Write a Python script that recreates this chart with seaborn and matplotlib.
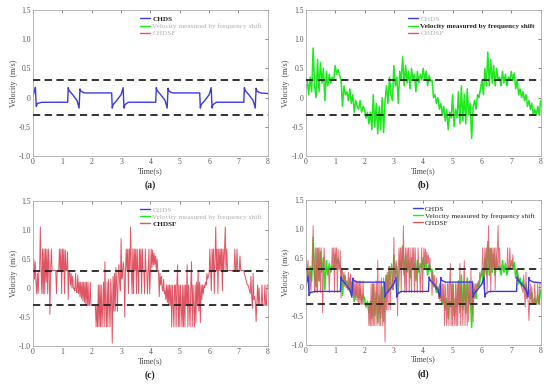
import matplotlib
matplotlib.use("Agg")
import matplotlib.pyplot as plt
from matplotlib.lines import Line2D
import numpy as np
import seaborn as sns

# CHDS: key points of the switching curve
chds_t = [0.0, 0.08, 0.11, 0.15, 0.3, 1.18, 1.2, 1.23, 1.35, 1.5, 1.57, 1.6, 1.63, 1.75,
          2.68, 2.7, 2.73, 2.85, 3.0, 3.07, 3.1, 3.13, 3.25,
          4.18, 4.2, 4.23, 4.35, 4.5, 4.57, 4.6, 4.63, 4.75,
          5.68, 5.7, 5.73, 5.85, 6.0, 6.07, 6.1, 6.13, 6.25,
          7.18, 7.2, 7.23, 7.35, 7.5, 7.57, 7.6, 7.63, 7.75, 8.0]
chds_v = [0.02, 0.18, -0.15, -0.1, -0.08, -0.08, 0.17, 0.12, 0.05, -0.05, -0.18, 0.15, 0.11, 0.08,
          0.08, -0.18, -0.12, -0.05, 0.05, 0.17, -0.18, -0.12, -0.08,
          -0.08, 0.17, 0.12, 0.05, -0.05, -0.18, 0.16, 0.11, 0.08,
          0.08, -0.18, -0.12, -0.05, 0.05, 0.17, -0.18, -0.12, -0.08,
          -0.08, 0.17, 0.12, 0.05, -0.05, -0.18, 0.16, 0.11, 0.08, 0.07]

# velocity measured by frequency shift, sampled every 0.05 s
shift_t = np.linspace(0, 8, 161)
shift_v = [
    0.15, 0.30, 0.05, 0.35, 0.10, 0.85, 0.20, 0.00, 0.65, 0.10,
    0.60, 0.25, 0.50, -0.05, 0.45, 0.20, 0.40, 0.25, 0.35, 0.30,
    0.55, 0.40, 0.48, 0.38, 0.30, -0.15, 0.20, 0.05, 0.10, -0.05,
    0.15, -0.10, 0.05, -0.25, -0.05, -0.15, -0.20, -0.05, -0.25, -0.15,
    -0.20, -0.35, -0.25, -0.45, -0.25, -0.55, 0.05, -0.50, -0.10, -0.62,
    -0.15, -0.55, 0.00, -0.60, -0.05, 0.20, -0.10, 0.35, 0.05, -0.05,
    0.55, 0.20, 0.35, -0.10, 0.45, 0.30, 0.70, 0.20, 0.55, 0.25,
    0.45, 0.15, 0.50, 0.30, 0.40, 0.10, 0.45, 0.25, 0.40, 0.30,
    0.50, 0.30, 0.45, 0.20, 0.38, 0.28, 0.30, 0.00, 0.05, -0.10,
    0.00, -0.20, -0.10, -0.30, -0.15, -0.40, -0.20, -0.55, -0.25, -0.35,
    0.05, -0.50, -0.20, -0.35, 0.10, -0.45, 0.20, -0.40, 0.05, -0.45,
    0.15, -0.30, -0.10, -0.70, -0.15, -0.05, -0.20, 0.05, 0.00, 0.15,
    0.30, 0.05, 0.50, 0.20, 0.78, 0.20, 0.65, 0.25, 0.55, 0.20,
    0.50, 0.30, 0.35, 0.20, 0.45, 0.25, 0.40, 0.20, 0.35, 0.30,
    0.45, 0.30, 0.42, 0.15, 0.30, 0.05, 0.15, 0.00, 0.10, -0.05,
    0.05, -0.15, -0.05, -0.20, -0.10, -0.30, -0.20, -0.30, -0.15, -0.30,
    -0.05,
]

# CHDSF, sampled every 0.025 s
chdsf_t = np.linspace(0, 8, 321)
chdsf_v = [
    0.05, 0.50, 0.15, 0.45, 0.10, -0.10, 0.25, -0.10, 0.28, 0.30,
    1.05, 0.30, -0.10, 0.67, -0.10, 0.67, -0.10, 0.67, 0.10, 0.67,
    -0.10, 0.67, 0.30, -0.45, 0.30, 0.67, 0.30, 0.30, 0.30, 0.30,
    0.30, 0.30, -0.10, 0.30, 0.30, 0.30, 0.67, 0.30, 0.67, -0.10,
    0.67, 0.30, 0.67, -0.10, 0.65, 0.30, 0.30, 0.62, -0.20, 0.30,
    0.28, 0.05, 0.25, 0.00, 0.20, -0.02, 0.00, -0.05, 0.25, -0.05,
    -0.08, 0.22, -0.10, 0.10, -0.15, 0.10, -0.18, 0.10, -0.22, 0.10,
    -0.25, 0.10, -0.28, 0.10, -0.30, 0.10, -0.30, -0.30, 0.10, -0.30,
    -0.30, -0.30, -0.30, -0.30, -0.30, -0.30, -0.67, -0.30, -0.67, 0.05,
    -0.67, 0.05, -0.67, 0.05, -0.67, -0.30, 0.10, -0.67, 0.45, -0.30,
    -0.67, 0.10, -0.67, 0.15, -0.30, -0.67, 0.15, -0.20, -0.95, 0.20,
    -0.40, 0.25, -0.40, 0.35, 0.05, -0.40, 0.20, 0.40, 0.10, -0.05,
    0.85, 0.15, 0.25, 0.45, 0.30, -0.50, 0.30, 0.67, 0.30, 0.67,
    -0.10, 0.67, 0.30, 1.05, 0.30, -0.10, 0.67, -0.10, 0.67, 0.30,
    0.67, -0.10, 0.67, 0.30, -0.10, 0.67, 0.30, 0.67, -0.10, 0.67,
    0.30, 0.30, -0.10, 0.67, 0.30, 0.30, -0.10, 0.30, 0.67, -0.10,
    0.30, 0.67, 0.35, 0.65, 0.40, 0.60, 0.40, 0.55, 0.30, 0.50,
    0.30, 0.30, -0.15, 0.25, 0.05, 0.20, 0.00, -0.05, 0.15, -0.10,
    -0.05, -0.20, 0.05, -0.25, 0.05, -0.30, 0.05, -0.30, 0.05, -0.67,
    0.05, -0.30, -0.67, 0.05, 0.05, -0.67, 0.05, 0.40, -0.67, 0.05,
    -0.67, 0.05, -0.30, -0.67, 0.05, -0.67, 0.05, -0.67, 0.05, -0.30,
    0.40, -0.67, 0.05, -0.30, -0.67, 0.05, 0.45, -0.67, 0.05, -0.30,
    -0.67, 0.05, -0.60, 0.10, -0.30, 0.30, -0.40, 0.10, -0.60, 0.05,
    -0.20, 0.05, -0.10, 0.05, 0.00, 0.10, 0.05, 0.25, 0.15, 0.20,
    0.25, 0.67, 0.30, -0.05, 0.67, 0.30, 0.67, -0.10, 0.45, 1.05,
    0.30, 0.67, -0.10, 0.67, 0.30, 0.67, 0.30, 0.67, -0.05, 0.67,
    0.30, 0.67, 1.05, 0.30, 0.67, 0.30, 0.30, 0.30, 0.30, 0.30,
    0.30, 0.30, 0.30, 0.30, 0.30, 0.67, 0.30, 0.30, 0.67, 0.30,
    0.30, 0.30, 0.55, 0.30, 0.30, 0.30, 0.30, 0.30, 0.25, 0.20,
    0.15, 0.10, 0.05, 0.05, 0.00, -0.05, -0.10, 0.20, -0.15, -0.35,
    0.25, -0.20, -0.15, -0.25, -0.58, -0.25, 0.05, -0.30, 0.00, -0.30,
    -0.30, -0.30, 0.05, -0.30, -0.30, -0.30, 0.05, -0.30, -0.30, 0.05,
    0.05,
]

LABELS = ["CHDS", "Velocity measured by frequency shift", "CHDSF"]
COLORS = ["#3b3bdc", "#1ee81e", "#e05564"]
WIDTHS = [1.0, 1.1, 0.7]
YTICKS = [1.5, 1.0, 0.5, 0, -0.5, -1.0]
YTICKLABELS = ["1.5", "1.0", "0.5", "0", "-0.5", "-1.0"]
PANELS = ["(a)", "(b)", "(c)", "(d)"]

sns.set_theme(style="white")
plt.rcParams["font.family"] = ["Liberation Serif", "DejaVu Serif"]

fig = plt.figure(figsize=(5.5, 3.87), dpi=100)
positions = [
    [0.060, 0.597, 0.427, 0.377],
    [0.556, 0.597, 0.427, 0.377],
    [0.060, 0.106, 0.427, 0.375],
    [0.556, 0.109, 0.427, 0.375],
]
active = [[0], [1], [2], [0, 1, 2]]
series = [(chds_t, chds_v), (shift_t, shift_v), (chdsf_t, chdsf_v)]

for i, pos in enumerate(positions):
    ax = fig.add_axes(pos)
    draw_order = [1, 2, 0] if len(active[i]) > 1 else active[i]
    for k in draw_order:
        t, v = series[k]
        sns.lineplot(
            x=t, y=v, ax=ax, color=COLORS[k], estimator=None, sort=False,
            linewidth=WIDTHS[k],
            alpha=0.85 if (k == 2 and len(active[i]) > 1) else 1.0,
        )
    for yv in (0.3, -0.3):
        ax.axhline(yv, color="#222222", linewidth=1.3, dashes=(4, 2.5), zorder=5)

    ax.set_xlim(0, 8)
    ax.set_ylim(-1.0, 1.5)
    ax.set_xticks(range(9))
    ax.set_yticks(YTICKS)
    ax.set_yticklabels(YTICKLABELS)
    ax.tick_params(direction="in", length=2, width=0.5, labelsize=5.5,
                   colors="#555555", pad=1.5, top=True, right=True)
    ax.set_xlabel("Time(s)", fontsize=5.8, color="#444444", labelpad=0.5)
    ax.set_ylabel("Velocity\u2002(m/s)", fontsize=5.8, color="#444444", labelpad=1)
    for sp in ax.spines.values():
        sp.set_color("#aaaaaa")
        sp.set_linewidth(0.6)

    handles = [Line2D([0], [0], color=c, linewidth=1.0) for c in COLORS]
    leg = ax.legend(handles, LABELS, loc="upper right", frameon=False, fontsize=5.2,
                    handlelength=1.4, handletextpad=0.3, labelspacing=0.15,
                    borderaxespad=0.4)
    for k, txt in enumerate(leg.get_texts()):
        if k in active[i]:
            txt.set_color("#222222")
            if len(active[i]) == 1:
                txt.set_fontweight("bold")
        else:
            txt.set_color("#b0b0b0")

    x0, y0, w, h = pos
    fig.text(x0 + w / 2, y0 - 0.075, PANELS[i], ha="center", va="center",
             fontsize=7, fontweight="bold", color="#222222")

fig.savefig("out.png", dpi=100, facecolor="white")
